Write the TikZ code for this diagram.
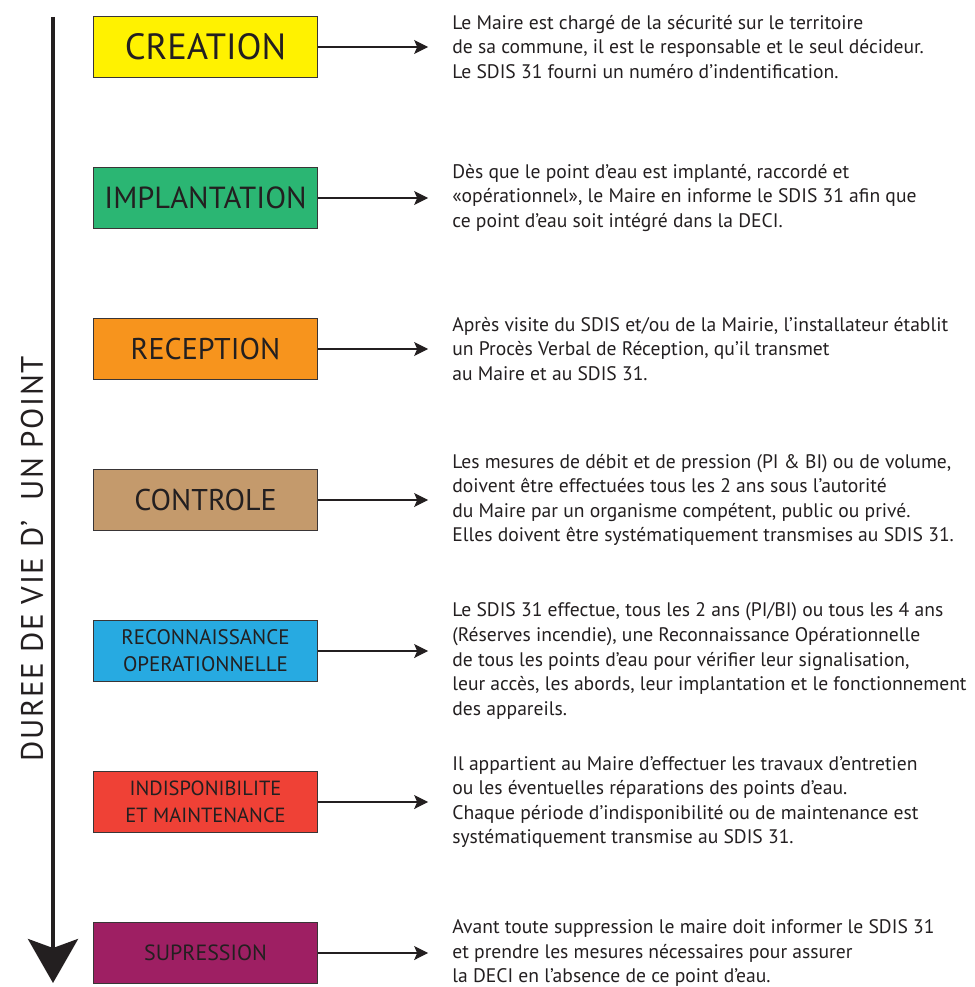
\documentclass[tikz,border=0pt]{standalone}
\usepackage{fontspec}
\setmainfont{PT Sans}
\usepackage{tikz}
\usetikzlibrary{arrows.meta,positioning}
\usepackage{xcolor}
\definecolor{ink}{RGB}{35,31,32}
\definecolor{creationfill}{RGB}{255,242,0}
\definecolor{implantfill}{RGB}{43,182,115}
\definecolor{receptfill}{RGB}{247,148,29}
\definecolor{controlfill}{RGB}{196,154,108}
\definecolor{reconfill}{RGB}{39,170,225}
\definecolor{indispofill}{RGB}{239,65,54}
\definecolor{suppfill}{RGB}{158,31,99}

\begin{document}
\begin{tikzpicture}[x=1pt, y=-1pt,
  box/.style={draw=ink!90, line width=1.3pt, minimum width=224pt, minimum height=61pt, align=center, inner sep=0pt, text=ink},
  desc/.style={align=left, inner sep=0pt, text=ink, font=\fontsize{19.6}{24.6}\selectfont},
  arrow/.style={-{Stealth[length=14pt, width=14pt, inset=3pt]}, line width=1.2pt, draw=ink, shorten >=24pt},
]
  \useasboundingbox (0,0) rectangle (974,987);
  % time axis
  \coordinate (axistop) at (53,17);
  \coordinate (axisend) at (53,983);
  \draw[ink, line width=4pt, -{Stealth[length=44pt, width=50pt, inset=9pt]}] (axistop) -- (axisend);
  \node[rotate=90, text=ink, font=\fontsize{31}{31}\selectfont\addfontfeature{LetterSpace=5.5}] (axislabel) at (32,559) {DUREE DE VIE D’~ UN POINT};

  % steps
  \node[box, fill=creationfill, font=\fontsize{36.5}{36}\selectfont] (creation) at (205.5,47) {CREATION};
  \node[box, fill=implantfill, below=88.7pt of creation, font=\fontsize{30.5}{30}\selectfont] (implantation) {IMPLANTATION};
  \node[box, fill=receptfill, below=88.7pt of implantation, font=\fontsize{30}{30}\selectfont] (reception) {RECEPTION};
  \node[box, fill=controlfill, below=88.7pt of reception, font=\fontsize{30}{30}\selectfont] (controle) {CONTROLE};
  \node[box, fill=reconfill, below=88.7pt of controle, font=\fontsize{21}{27}\selectfont] (reconnaissance) {RECONNAISSANCE\\OPERATIONNELLE};
  \node[box, fill=indispofill, below=88.7pt of reconnaissance, font=\fontsize{20.5}{27}\selectfont] (indispo) {INDISPONIBILITE\\ET MAINTENANCE};
  \node[box, fill=suppfill, below=88.7pt of indispo, font=\fontsize{22}{22}\selectfont] (suppression) {SUPRESSION};

  % explanations
  \node[desc, right=134pt of creation] (creationtxt) {Le Maire est chargé de la sécurité sur le territoire\\de sa commune, il est le responsable et le seul décideur.\\Le SDIS 31 fourni un numéro d’indentification.};
  \node[desc, right=134pt of implantation] (implantationtxt) {Dès que le point d’eau est implanté, raccordé et\\«opérationnel», le Maire en informe le SDIS 31 afin que\\ce point d’eau soit intégré dans la DECI.};
  \node[desc, right=134pt of reception] (receptiontxt) {Après visite du SDIS et/ou de la Mairie, l'installateur établit\\un Procès Verbal de Réception, qu’il transmet\\au Maire et au SDIS 31.};
  \node[desc, right=134pt of controle] (controletxt) {Les mesures de débit et de pression (PI \& BI) ou de volume,\\doivent être effectuées tous les 2 ans sous l’autorité\\du Maire par un organisme compétent, public ou privé.\\Elles doivent être systématiquement transmises au SDIS 31.};
  \node[desc, right=134pt of reconnaissance, yshift=-10pt] (reconnaissancetxt) {Le SDIS 31 effectue, tous les 2 ans (PI/BI) ou tous les 4 ans\\(Réserves incendie), une Reconnaissance Opérationnelle\\de tous les points d’eau pour vérifier leur signalisation,\\leur accès, les abords, leur implantation et le fonctionnement\\des appareils.};
  \node[desc, right=134pt of indispo] (indispotxt) {Il appartient au Maire d’effectuer les travaux d’entretien\\ou les éventuelles réparations des points d’eau.\\Chaque période d’indisponibilité ou de maintenance est\\systématiquement transmise au SDIS 31.};
  \node[desc, right=134pt of suppression] (suppressiontxt) {Avant toute suppression le maire doit informer le SDIS 31\\et prendre les mesures nécessaires pour assurer\\la DECI en l'absence de ce point d'eau.};

  \draw[arrow] (creation.east) -- (creation.east -| creationtxt.west);
  \draw[arrow] (implantation.east) -- (implantation.east -| implantationtxt.west);
  \draw[arrow] (reception.east) -- (reception.east -| receptiontxt.west);
  \draw[arrow] (controle.east) -- (controle.east -| controletxt.west);
  \draw[arrow] (reconnaissance.east) -- (reconnaissance.east -| reconnaissancetxt.west);
  \draw[arrow] (indispo.east) -- (indispo.east -| indispotxt.west);
  \draw[arrow] (suppression.east) -- (suppression.east -| suppressiontxt.west);
\end{tikzpicture}
\end{document}
